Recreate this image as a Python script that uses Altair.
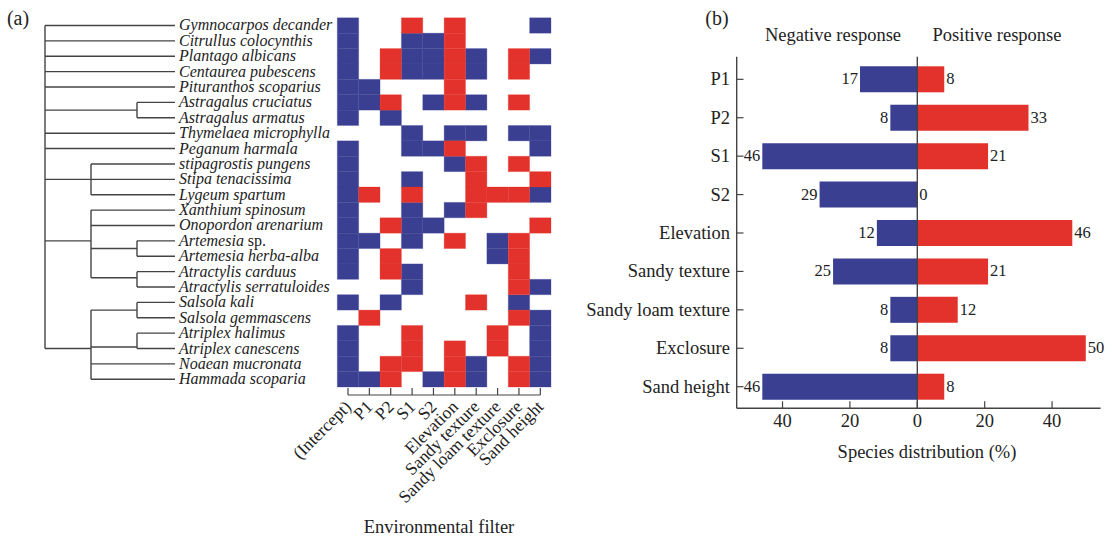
import altair as alt
import pandas as pd

# ---------------- data ----------------
species = [
    "Gymnocarpos decander", "Citrullus colocynthis", "Plantago albicans",
    "Centaurea pubescens", "Pituranthos scoparius", "Astragalus cruciatus",
    "Astragalus armatus", "Thymelaea microphylla", "Peganum harmala",
    "stipagrostis pungens", "Stipa tenacissima", "Lygeum spartum",
    "Xanthium spinosum", "Onopordon arenarium", "Artemesia sp.",
    "Artemesia herba-alba", "Atractylis carduus", "Atractylis serratuloides",
    "Salsola kali", "Salsola gemmascens", "Atriplex halimus",
    "Atriplex canescens", "Noaean mucronata", "Hammada scoparia",
]
variables = ["(Intercept)", "P1", "P2", "S1", "S2", "Elevation",
             "Sandy texture", "Sandy loam texture", "Exclosure", "Sand height"]
# -1 = negative (blue), 1 = positive (red), 0 = none
matrix = [
    [-1, 0, 0, 1, 0, 1, 0, 0, 0, -1],
    [-1, 0, 0, -1, -1, 1, 0, 0, 0, 0],
    [-1, 0, 1, -1, -1, 1, -1, 0, 1, -1],
    [-1, 0, 1, -1, -1, 1, -1, 0, 1, 0],
    [-1, -1, 0, 0, 0, 1, 0, 0, 0, 0],
    [-1, -1, 1, 0, -1, 1, -1, 0, 1, 0],
    [-1, 0, -1, 0, 0, 0, 0, 0, 0, 0],
    [0, 0, 0, -1, 0, -1, -1, 0, -1, -1],
    [-1, 0, 0, -1, -1, 1, 0, 0, 0, -1],
    [-1, 0, 0, 0, 0, -1, 1, 0, 1, 0],
    [-1, 0, 0, -1, 0, 0, 1, 0, 0, 1],
    [-1, 1, 0, 1, 0, 0, 1, 1, 1, -1],
    [-1, 0, 0, -1, 0, -1, 1, 0, 0, 0],
    [-1, 0, 1, -1, -1, 0, 0, 0, 0, 1],
    [-1, -1, 0, -1, 0, 1, 0, -1, 1, 0],
    [-1, 0, 1, 0, 0, 0, 0, -1, 1, 0],
    [-1, 0, 1, -1, 0, 0, 0, 0, 1, 0],
    [0, 0, 0, -1, 0, 0, 0, 0, 1, -1],
    [-1, 0, -1, 0, 0, 0, 1, 0, -1, 0],
    [0, 1, 0, 0, 0, 0, 0, 0, 1, -1],
    [-1, 0, 0, 1, 0, 0, 0, 1, 0, -1],
    [-1, 0, 0, 1, 0, 1, 0, 1, 0, -1],
    [-1, 0, 1, 1, 0, 1, -1, 0, 1, -1],
    [-1, -1, 1, 0, -1, 1, -1, 0, 1, -1],
]
# dendrogram: (node depth, junction row, children); ints are leaf rows
LEAF_DEPTH = 3
tree = (0, None, [
    0, 1, 2, 3, 4,
    (2, 5.5, [5, 6]),
    7, 8,
    (1, 10, [9, 10, 11]),
    (1, 14, [12, 13, (2, 14.5, [14, 15]), (2, 16.4, [16, 17])]),
    (1, 21, [(2, 18.5, [18, 19]), (2, 20.9, [20, 21]), 22, 23]),
])

bar_categories = ["P1", "P2", "S1", "S2", "Elevation", "Sandy texture",
                  "Sandy loam texture", "Exclosure", "Sand height"]
negative_pct = [17, 8, 46, 29, 12, 25, 8, 8, 46]
positive_pct = [8, 33, 21, 0, 46, 21, 12, 50, 8]
x_ticks = [-40, -20, 0, 20, 40]

# ---------------- style ----------------
BLUE = "#3b3f92"
RED = "#e3322b"
INK = "#222222"
LINE = "#444444"
FONT = "Liberation Serif"
TITLE_FS = 18.5

# ---------------- scales ----------------
X_DEND = alt.Scale(domain=[0, 2, LEAF_DEPTH], range=[45, 137, 175], zero=False, nice=False)
Y_ROWS = alt.Scale(domain=[-0.5, len(species) - 0.5], range=[17.8, 387.0], zero=False, nice=False)
X_HEAT = alt.Scale(domain=[-0.5, len(variables) - 0.5], range=[337.3, 551.0], zero=False, nice=False)
XB_DOM = [-53.6, 54.4]
X_BAR = alt.Scale(domain=XB_DOM, range=[736.7, 1100.6], zero=False, nice=False)
Y_BAR = alt.Scale(domain=bar_categories, range=[60.1, 405.9], paddingInner=0.323, paddingOuter=0.1615)
AX_TOP, AX_BOT = 56.7, 408.3

# ---------------- dendrogram segments ----------------
segs = []


def walk(node):
    d, _, children = node
    ys = []
    for c in children:
        if isinstance(c, int):
            cy, cd = c, LEAF_DEPTH
        else:
            cd, cy = c[0], c[1]
            walk(c)
        ys.append(cy)
        segs.append(dict(x=d, x2=cd, y=cy, y2=cy))
    segs.append(dict(x=d, x2=d, y=min(ys), y2=max(ys)))


walk(tree)
seg_df = pd.DataFrame(segs)

dendro = alt.Chart(seg_df).mark_rule(color=LINE, strokeWidth=1.4).encode(
    x=alt.X("x:Q", scale=X_DEND, axis=None),
    x2="x2:Q",
    y=alt.Y("y:Q", scale=Y_ROWS, axis=None),
    y2="y2:Q",
)

leaf_df = pd.DataFrame({
    "r": list(range(len(species))),
    "d": [LEAF_DEPTH] * len(species),
    "name": [s[:-4] if s.endswith(" sp.") else s for s in species],
    "suffix": ["sp." if s.endswith(" sp.") else "" for s in species],
})
LABEL_FS = 16
leaf_text = alt.Chart(leaf_df).mark_text(
    align="left", baseline="middle", dx=4, font=FONT, fontStyle="italic",
    fontSize=LABEL_FS, color=INK,
).encode(
    x=alt.X("d:Q", scale=X_DEND, axis=None),
    y=alt.Y("r:Q", scale=Y_ROWS, axis=None),
    text="name:N",
)
suffix_text = alt.Chart(leaf_df[leaf_df.suffix != ""]).mark_text(
    align="left", baseline="middle", dx=4 + 4.3 * LABEL_FS, font=FONT,
    fontSize=LABEL_FS, color=INK,
).encode(
    x=alt.X("d:Q", scale=X_DEND, axis=None),
    y=alt.Y("r:Q", scale=Y_ROWS, axis=None),
    text="suffix:N",
)

# ---------------- heatmap ----------------
cells = [dict(r=r, c=c, s=v) for r, row in enumerate(matrix) for c, v in enumerate(row) if v != 0]
cell_df = pd.DataFrame(cells)


def heat_layer(sign, color):
    return alt.Chart(cell_df).transform_filter(
        alt.datum.s == sign
    ).transform_calculate(
        x0="datum.c - 0.5", x1="datum.c + 0.5", y0="datum.r - 0.5", y1="datum.r + 0.5"
    ).mark_rect(color=color, stroke=color, strokeWidth=0.3).encode(
        x=alt.X("x0:Q", scale=X_HEAT, axis=None),
        x2="x1:Q",
        y=alt.Y("y0:Q", scale=Y_ROWS, axis=None),
        y2="y1:Q",
    )


var_df = pd.DataFrame({"c": list(range(len(variables))), "v": variables})
heat_ticks = alt.Chart(var_df).mark_rule(color=LINE, strokeWidth=1.2).encode(
    x=alt.X("c:Q", scale=X_HEAT, axis=None),
    y=alt.value(388),
    y2=alt.value(395),
)
heat_base_df = pd.DataFrame({"a": [0], "b": [len(variables) - 1]})
heat_base = alt.Chart(heat_base_df).mark_rule(color=LINE, strokeWidth=1.2).encode(
    x=alt.X("a:Q", scale=X_HEAT, axis=None),
    x2="b:Q",
    y=alt.value(395),
)
heat_labels = alt.Chart(var_df).mark_text(
    angle=315, align="right", baseline="middle", font=FONT, fontSize=17.5, color=INK, dx=1,
).encode(
    x=alt.X("c:Q", scale=X_HEAT, axis=None),
    y=alt.value(405),
    text="v:N",
)

# ---------------- bar chart ----------------
bar_df = pd.DataFrame({
    "cat": bar_categories * 2,
    "v": [-v for v in negative_pct] + positive_pct,
    "z": [0] * (2 * len(bar_categories)),
    "lab": [str(v) for v in negative_pct] + [str(v) for v in positive_pct],
    "side": ["neg"] * len(bar_categories) + ["pos"] * len(bar_categories),
})


def bar_layer(side, color):
    return alt.Chart(bar_df).transform_filter(alt.datum.side == side).mark_bar(color=color).encode(
        x=alt.X("v:Q", scale=X_BAR, axis=None),
        x2="z:Q",
        y=alt.Y("cat:N", scale=Y_BAR, axis=None),
    )


def bar_text(side, align, dx):
    return alt.Chart(bar_df).transform_filter(alt.datum.side == side).mark_text(
        align=align, baseline="middle", dx=dx, font=FONT, fontSize=16.5, color=INK,
    ).encode(
        x=alt.X("v:Q", scale=X_BAR, axis=None),
        y=alt.Y("cat:N", scale=Y_BAR, axis=None, bandPosition=0.5),
        text="lab:N",
    )


cat_df = pd.DataFrame({"cat": bar_categories})
cat_labels = alt.Chart(cat_df).mark_text(
    align="right", baseline="middle", font=FONT, fontSize=TITLE_FS, color=INK,
).encode(
    x=alt.value(730),
    y=alt.Y("cat:N", scale=Y_BAR, axis=None, bandPosition=0.5),
    text="cat:N",
)
cat_ticks = alt.Chart(cat_df).mark_rule(color=LINE, strokeWidth=1.2).encode(
    x=alt.value(736.7),
    x2=alt.value(743.5),
    y=alt.Y("cat:N", scale=Y_BAR, axis=None, bandPosition=0.5),
)

frame_df = pd.DataFrame({"x0": [XB_DOM[0]], "x1": [XB_DOM[1]], "zero": [0]})
y_axis_line = alt.Chart(frame_df).mark_rule(color=LINE, strokeWidth=1.4).encode(
    x=alt.X("x0:Q", scale=X_BAR, axis=None), y=alt.value(AX_TOP), y2=alt.value(AX_BOT),
)
zero_line = alt.Chart(frame_df).mark_rule(color=LINE, strokeWidth=1.4).encode(
    x=alt.X("zero:Q", scale=X_BAR, axis=None), y=alt.value(AX_TOP), y2=alt.value(AX_BOT),
)
x_axis_line = alt.Chart(frame_df).mark_rule(color=LINE, strokeWidth=1.4).encode(
    x=alt.X("x0:Q", scale=X_BAR, axis=None), x2="x1:Q", y=alt.value(AX_BOT),
)
tick_df = pd.DataFrame({"t": x_ticks, "lab": [str(abs(t)) for t in x_ticks]})
x_ticks_marks = alt.Chart(tick_df).mark_rule(color=LINE, strokeWidth=1.2).encode(
    x=alt.X("t:Q", scale=X_BAR, axis=None), y=alt.value(AX_BOT - 7), y2=alt.value(AX_BOT),
)
x_tick_labels = alt.Chart(tick_df).mark_text(
    align="center", baseline="middle", font=FONT, fontSize=TITLE_FS, color=INK,
).encode(
    x=alt.X("t:Q", scale=X_BAR, axis=None), y=alt.value(421), text="lab:N",
)

# ---------------- annotations ----------------
ann_df = pd.DataFrame({
    "txt": ["Negative response", "Positive response",
            "Species distribution (%)", "Environmental filter"],
    "px": [833, 997, 927, 439],
    "py": [35, 35, 452, 527],
})
PAGE_X = alt.Scale(domain=[0, 1112], range=[0, 1112])
PAGE_Y = alt.Scale(domain=[0, 536], range=[0, 536])
annotations = alt.Chart(ann_df).mark_text(
    align="center", baseline="middle", font=FONT, fontSize=TITLE_FS, color=INK,
).encode(
    x=alt.X("px:Q", scale=PAGE_X, axis=None),
    y=alt.Y("py:Q", scale=PAGE_Y, axis=None),
    text="txt:N",
)
panel_df = pd.DataFrame({"txt": ["(a)", "(b)"], "px": [18, 717], "py": [19, 19]})
panel_labels = alt.Chart(panel_df).mark_text(
    align="center", baseline="middle", font=FONT, fontSize=20, color=INK,
).encode(
    x=alt.X("px:Q", scale=PAGE_X, axis=None),
    y=alt.Y("py:Q", scale=PAGE_Y, axis=None),
    text="txt:N",
)

chart = alt.layer(
    dendro, leaf_text, suffix_text,
    heat_layer(-1, BLUE), heat_layer(1, RED), heat_ticks, heat_base, heat_labels,
    bar_layer("neg", BLUE), bar_layer("pos", RED),
    bar_text("neg", "right", -2), bar_text("pos", "left", 2),
    cat_labels, cat_ticks, y_axis_line, zero_line, x_axis_line, x_ticks_marks, x_tick_labels,
    annotations, panel_labels,
).resolve_scale(
    x="independent", y="independent"
).properties(
    width=1112, height=536, autosize="none", padding=0, background="white",
).configure_view(stroke=None)

chart.save("out.html", embed_options={"renderer": "svg", "actions": False})
